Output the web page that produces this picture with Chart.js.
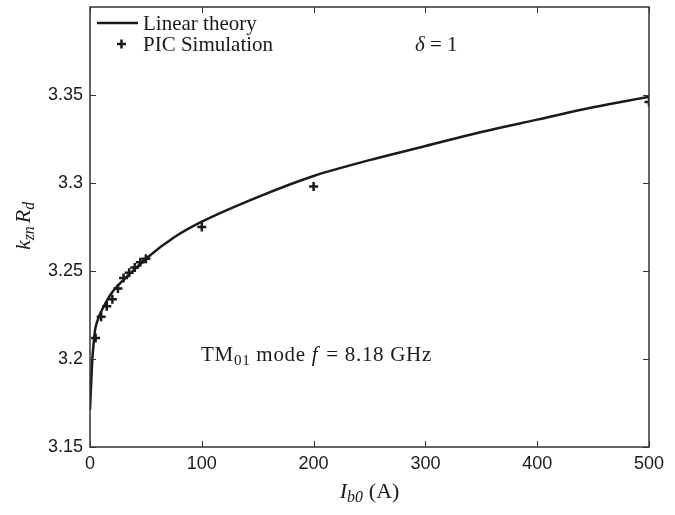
<!DOCTYPE html>
<html>
<head>
<meta charset="utf-8">
<script src="https://cdn.jsdelivr.net/npm/chart.js@4/dist/chart.umd.min.js"></script>
<style>
  html, body { margin: 0; padding: 0; background: #fff; }
  #wrap { width: 675px; height: 515px; }
</style>
</head>
<body>
<div id="wrap"><canvas id="kchart"></canvas></div>
<script>
// linear theory curve, I_b0 (A) vs k_zn R_d
const theoryI = [0, 1, 2, 3, 4, 5, 8, 10, 15, 20, 30, 40, 50, 75, 100, 150, 200, 250, 300, 350, 400, 450, 500];
const theoryK = [3.171, 3.186, 3.199, 3.207, 3.214, 3.218, 3.224, 3.227, 3.233, 3.238, 3.245, 3.251, 3.257, 3.269, 3.278, 3.292, 3.304, 3.313, 3.321, 3.329, 3.336, 3.343, 3.349];

// PIC simulation results
const picI = [5, 10, 15, 20, 25, 30, 35, 40, 45, 50, 100, 200, 500];
const picK = [3.212, 3.224, 3.230, 3.234, 3.240, 3.246, 3.249, 3.252, 3.255, 3.257, 3.275, 3.298, 3.346];

const xTicks = [0, 100, 200, 300, 400, 500];
const yTicks = [3.15, 3.2, 3.25, 3.3, 3.35];

const serif = '"Liberation Serif", "DejaVu Serif", serif';
const sans = '"Liberation Sans", Arial, sans-serif';
const ink = '#1a1a1a';

// draws a run of text pieces, some italic and some subscript
function drawRich(c, parts, x, y, size, align) {
  const widths = parts.map(p => {
    const s = p.sub ? size * 0.72 : size;
    c.font = (p.it ? 'italic ' : '') + s + 'px ' + serif;
    return c.measureText(p.t).width + (p.gap || 0);
  });
  const total = widths.reduce((a, b) => a + b, 0);
  let cx = align === 'center' ? x - total / 2 : x;
  parts.forEach((p, i) => {
    const s = p.sub ? size * 0.72 : size;
    c.font = (p.it ? 'italic ' : '') + s + 'px ' + serif;
    c.fillText(p.t, cx, p.sub ? y + size * 0.28 : y);
    cx += widths[i];
  });
}

const frame = {
  id: 'frame',
  afterDraw(chart) {
    const c = chart.ctx;
    const a = chart.chartArea;
    const xs = chart.scales.x, ys = chart.scales.y;
    c.save();
    c.strokeStyle = '#333';
    c.lineWidth = 1.5;
    c.strokeRect(a.left, a.top, a.right - a.left, a.bottom - a.top);
    c.lineWidth = 1;
    c.beginPath();
    xTicks.forEach(v => {
      const px = Math.round(xs.getPixelForValue(v)) + 0.5;
      c.moveTo(px, a.bottom); c.lineTo(px, a.bottom - 6);
      c.moveTo(px, a.top); c.lineTo(px, a.top + 6);
    });
    yTicks.forEach(v => {
      const py = Math.round(ys.getPixelForValue(v)) + 0.5;
      c.moveTo(a.left, py); c.lineTo(a.left + 6, py);
      c.moveTo(a.right, py); c.lineTo(a.right - 6, py);
    });
    c.stroke();

    // legend
    c.fillStyle = ink;
    c.strokeStyle = ink;
    c.lineWidth = 2.5;
    c.beginPath();
    c.moveTo(a.left + 7, 23); c.lineTo(a.left + 48, 23);
    c.stroke();
    c.beginPath();
    c.moveTo(a.left + 27, 44); c.lineTo(a.left + 36, 44);
    c.moveTo(a.left + 31.5, 39.5); c.lineTo(a.left + 31.5, 48.5);
    c.stroke();
    c.textBaseline = 'middle';
    c.font = '21px ' + serif;
    c.fillText('Linear theory', a.left + 53, 24);
    c.fillText('PIC Simulation', a.left + 53, 45);

    // annotations
    drawRich(c, [{ t: 'δ', it: true }, { t: ' = 1' }], 415, 45, 21, 'left');
    c.letterSpacing = '0.7px';
    drawRich(c, [{ t: 'TM' }, { t: '01', sub: true }, { t: ' mode ' }, { t: 'f', it: true, gap: 2 }, { t: ' = 8.18 GHz' }], 201, 355, 21, 'left');
    c.letterSpacing = '0px';

    // axis titles
    drawRich(c, [{ t: 'I', it: true }, { t: 'b0', it: true, sub: true, gap: 6 }, { t: '(A)' }], (a.left + a.right) / 2, 492, 22, 'center');
    c.translate(24, 226);
    c.rotate(-Math.PI / 2);
    drawRich(c, [{ t: 'k', it: true }, { t: 'zn', it: true, sub: true, gap: 3 }, { t: 'R', it: true }, { t: 'd', it: true, sub: true }], 0, 0, 22, 'center');
    c.restore();
  }
};

new Chart(document.getElementById('kchart'), {
  type: 'scatter',
  data: {
    datasets: [{
      label: 'Linear theory',
      data: theoryI.map((v, i) => ({ x: v, y: theoryK[i] })),
      showLine: true,
      borderColor: ink,
      borderWidth: 2.5,
      pointRadius: 0,
      cubicInterpolationMode: 'monotone'
    }, {
      label: 'PIC Simulation',
      data: picI.map((v, i) => ({ x: v, y: picK[i] })),
      pointStyle: 'cross',
      pointRadius: 4.5,
      borderWidth: 2.5,
      borderColor: ink,
      backgroundColor: ink
    }]
  },
  options: {
    responsive: true,
    maintainAspectRatio: false,
    animation: false,
    layout: { padding: { left: 0, right: 26, top: 6, bottom: 0 } },
    plugins: { legend: { display: false }, tooltip: { enabled: false } },
    scales: {
      x: {
        type: 'linear',
        min: 0, max: 500,
        afterFit(s) { s.height = 68; s.paddingLeft = 0; s.paddingRight = 0; },
        afterBuildTicks(s) { s.ticks = xTicks.map(v => ({ value: v })); },
        grid: { display: false, drawTicks: false },
        border: { display: false },
        ticks: { color: ink, padding: 6, maxRotation: 0, font: { family: sans, size: 18 } }
      },
      y: {
        min: 3.15, max: 3.4,
        afterFit(s) { s.width = 90; s.paddingTop = 0; s.paddingBottom = 0; },
        afterBuildTicks(s) { s.ticks = yTicks.map(v => ({ value: v })); },
        grid: { display: false, drawTicks: false },
        border: { display: false },
        ticks: {
          color: ink, padding: 7, font: { family: sans, size: 18 },
          callback: v => String(Number(v.toFixed(2)))
        }
      }
    }
  },
  plugins: [frame]
});
</script>
</body>
</html>
